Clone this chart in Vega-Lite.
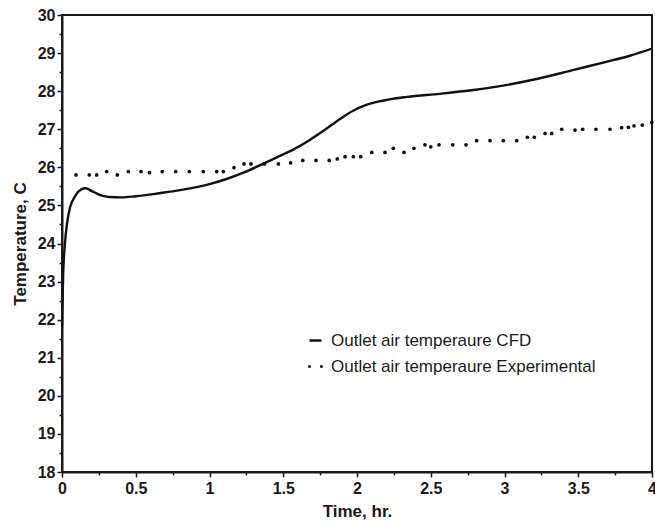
{
  "$schema": "https://vega.github.io/schema/vega-lite/v6.json",
  "width": 590,
  "height": 457,
  "autosize": {"type": "none"},
  "padding": {"left": 62, "top": 15, "right": 3, "bottom": 54},
  "background": "white",
  "config": {
    "font": "Liberation Sans",
    "view": {"stroke": "#1a1a1a", "strokeWidth": 2},
    "axis": {
      "grid": false,
      "domainColor": "#1a1a1a",
      "domainWidth": 2,
      "tickColor": "#1a1a1a",
      "tickWidth": 1.5,
      "labelFont": "Liberation Sans",
      "labelFontWeight": "bold",
      "labelFontSize": 16,
      "labelColor": "#1a1a1a",
      "labelOverlap": false,
      "labelFlush": false,
      "titleFont": "Liberation Sans",
      "titleFontSize": 17,
      "titleFontWeight": "bold",
      "titleColor": "#1a1a1a"
    },
    "legend": {
      "title": null,
      "orient": "none",
      "padding": 0,
      "labelFont": "Liberation Sans",
      "labelFontSize": 17,
      "labelColor": "#1a1a1a",
      "labelOffset": 7,
      "labelLimit": 400
    }
  },
  "datasets": {
    "cfd": [
      {"t": 0.0, "T": 21.8, "series": "Outlet air temperaure CFD"},
      {"t": 0.008, "T": 23.2, "series": "Outlet air temperaure CFD"},
      {"t": 0.02, "T": 24.0, "series": "Outlet air temperaure CFD"},
      {"t": 0.035, "T": 24.55, "series": "Outlet air temperaure CFD"},
      {"t": 0.055, "T": 24.95, "series": "Outlet air temperaure CFD"},
      {"t": 0.09, "T": 25.25, "series": "Outlet air temperaure CFD"},
      {"t": 0.13, "T": 25.42, "series": "Outlet air temperaure CFD"},
      {"t": 0.16, "T": 25.45, "series": "Outlet air temperaure CFD"},
      {"t": 0.2, "T": 25.38, "series": "Outlet air temperaure CFD"},
      {"t": 0.26, "T": 25.27, "series": "Outlet air temperaure CFD"},
      {"t": 0.32, "T": 25.22, "series": "Outlet air temperaure CFD"},
      {"t": 0.4, "T": 25.21, "series": "Outlet air temperaure CFD"},
      {"t": 0.5, "T": 25.24, "series": "Outlet air temperaure CFD"},
      {"t": 0.66, "T": 25.32, "series": "Outlet air temperaure CFD"},
      {"t": 0.8, "T": 25.4, "series": "Outlet air temperaure CFD"},
      {"t": 1.0, "T": 25.56, "series": "Outlet air temperaure CFD"},
      {"t": 1.12, "T": 25.7, "series": "Outlet air temperaure CFD"},
      {"t": 1.23, "T": 25.86, "series": "Outlet air temperaure CFD"},
      {"t": 1.34, "T": 26.05, "series": "Outlet air temperaure CFD"},
      {"t": 1.45, "T": 26.25, "series": "Outlet air temperaure CFD"},
      {"t": 1.57, "T": 26.47, "series": "Outlet air temperaure CFD"},
      {"t": 1.68, "T": 26.72, "series": "Outlet air temperaure CFD"},
      {"t": 1.78, "T": 26.98, "series": "Outlet air temperaure CFD"},
      {"t": 1.885, "T": 27.27, "series": "Outlet air temperaure CFD"},
      {"t": 1.97, "T": 27.48, "series": "Outlet air temperaure CFD"},
      {"t": 2.05, "T": 27.62, "series": "Outlet air temperaure CFD"},
      {"t": 2.15, "T": 27.73, "series": "Outlet air temperaure CFD"},
      {"t": 2.34, "T": 27.85, "series": "Outlet air temperaure CFD"},
      {"t": 2.56, "T": 27.93, "series": "Outlet air temperaure CFD"},
      {"t": 2.79, "T": 28.03, "series": "Outlet air temperaure CFD"},
      {"t": 3.01, "T": 28.16, "series": "Outlet air temperaure CFD"},
      {"t": 3.24, "T": 28.34, "series": "Outlet air temperaure CFD"},
      {"t": 3.47, "T": 28.56, "series": "Outlet air temperaure CFD"},
      {"t": 3.69, "T": 28.77, "series": "Outlet air temperaure CFD"},
      {"t": 3.85, "T": 28.93, "series": "Outlet air temperaure CFD"},
      {"t": 4.0, "T": 29.12, "series": "Outlet air temperaure CFD"}
    ],
    "exp": [
      {"t": 0.095, "T": 25.8, "series": "Outlet air temperaure Experimental"},
      {"t": 0.185, "T": 25.8, "series": "Outlet air temperaure Experimental"},
      {"t": 0.235, "T": 25.8, "series": "Outlet air temperaure Experimental"},
      {"t": 0.303, "T": 25.89, "series": "Outlet air temperaure Experimental"},
      {"t": 0.375, "T": 25.8, "series": "Outlet air temperaure Experimental"},
      {"t": 0.45, "T": 25.89, "series": "Outlet air temperaure Experimental"},
      {"t": 0.536, "T": 25.89, "series": "Outlet air temperaure Experimental"},
      {"t": 0.593, "T": 25.86, "series": "Outlet air temperaure Experimental"},
      {"t": 0.68, "T": 25.89, "series": "Outlet air temperaure Experimental"},
      {"t": 0.771, "T": 25.89, "series": "Outlet air temperaure Experimental"},
      {"t": 0.863, "T": 25.89, "series": "Outlet air temperaure Experimental"},
      {"t": 0.958, "T": 25.89, "series": "Outlet air temperaure Experimental"},
      {"t": 1.049, "T": 25.89, "series": "Outlet air temperaure Experimental"},
      {"t": 1.094, "T": 25.89, "series": "Outlet air temperaure Experimental"},
      {"t": 1.166, "T": 25.99, "series": "Outlet air temperaure Experimental"},
      {"t": 1.234, "T": 26.09, "series": "Outlet air temperaure Experimental"},
      {"t": 1.281, "T": 26.09, "series": "Outlet air temperaure Experimental"},
      {"t": 1.372, "T": 26.09, "series": "Outlet air temperaure Experimental"},
      {"t": 1.467, "T": 26.09, "series": "Outlet air temperaure Experimental"},
      {"t": 1.55, "T": 26.12, "series": "Outlet air temperaure Experimental"},
      {"t": 1.632, "T": 26.18, "series": "Outlet air temperaure Experimental"},
      {"t": 1.722, "T": 26.18, "series": "Outlet air temperaure Experimental"},
      {"t": 1.812, "T": 26.18, "series": "Outlet air temperaure Experimental"},
      {"t": 1.866, "T": 26.22, "series": "Outlet air temperaure Experimental"},
      {"t": 1.919, "T": 26.28, "series": "Outlet air temperaure Experimental"},
      {"t": 1.975, "T": 26.28, "series": "Outlet air temperaure Experimental"},
      {"t": 2.025, "T": 26.28, "series": "Outlet air temperaure Experimental"},
      {"t": 2.1, "T": 26.39, "series": "Outlet air temperaure Experimental"},
      {"t": 2.19, "T": 26.39, "series": "Outlet air temperaure Experimental"},
      {"t": 2.246, "T": 26.5, "series": "Outlet air temperaure Experimental"},
      {"t": 2.319, "T": 26.39, "series": "Outlet air temperaure Experimental"},
      {"t": 2.386, "T": 26.5, "series": "Outlet air temperaure Experimental"},
      {"t": 2.461, "T": 26.59, "series": "Outlet air temperaure Experimental"},
      {"t": 2.5, "T": 26.54, "series": "Outlet air temperaure Experimental"},
      {"t": 2.556, "T": 26.59, "series": "Outlet air temperaure Experimental"},
      {"t": 2.649, "T": 26.59, "series": "Outlet air temperaure Experimental"},
      {"t": 2.739, "T": 26.59, "series": "Outlet air temperaure Experimental"},
      {"t": 2.811, "T": 26.7, "series": "Outlet air temperaure Experimental"},
      {"t": 2.902, "T": 26.7, "series": "Outlet air temperaure Experimental"},
      {"t": 2.992, "T": 26.7, "series": "Outlet air temperaure Experimental"},
      {"t": 3.083, "T": 26.7, "series": "Outlet air temperaure Experimental"},
      {"t": 3.155, "T": 26.79, "series": "Outlet air temperaure Experimental"},
      {"t": 3.202, "T": 26.79, "series": "Outlet air temperaure Experimental"},
      {"t": 3.275, "T": 26.89, "series": "Outlet air temperaure Experimental"},
      {"t": 3.32, "T": 26.89, "series": "Outlet air temperaure Experimental"},
      {"t": 3.388, "T": 27.0, "series": "Outlet air temperaure Experimental"},
      {"t": 3.478, "T": 26.98, "series": "Outlet air temperaure Experimental"},
      {"t": 3.53, "T": 27.0, "series": "Outlet air temperaure Experimental"},
      {"t": 3.62, "T": 27.0, "series": "Outlet air temperaure Experimental"},
      {"t": 3.715, "T": 27.0, "series": "Outlet air temperaure Experimental"},
      {"t": 3.794, "T": 27.04, "series": "Outlet air temperaure Experimental"},
      {"t": 3.84, "T": 27.05, "series": "Outlet air temperaure Experimental"},
      {"t": 3.878, "T": 27.09, "series": "Outlet air temperaure Experimental"},
      {"t": 3.934, "T": 27.11, "series": "Outlet air temperaure Experimental"},
      {"t": 3.998, "T": 27.18, "series": "Outlet air temperaure Experimental"}
    ]
  },
  "encoding": {
    "x": {
      "field": "t",
      "type": "quantitative",
      "scale": {"domain": [0, 4], "nice": false, "zero": false},
      "axis": {
        "title": "Time, hr.",
        "values": [0, 0.25, 0.5, 0.75, 1, 1.25, 1.5, 1.75, 2, 2.25, 2.5, 2.75, 3, 3.25, 3.5, 3.75, 4],
        "labelExpr": "(datum.value * 2) % 1 === 0 ? format(datum.value, '~g') : ''",
        "tickSize": {"condition": {"test": "(datum.value * 2) % 1 === 0", "value": 5}, "value": 3},
        "labelPadding": 3,
        "titlePadding": 7
      }
    },
    "y": {
      "field": "T",
      "type": "quantitative",
      "scale": {"domain": [18, 30], "nice": false, "zero": false},
      "axis": {
        "title": "Temperature, C",
        "values": [18, 18.5, 19, 19.5, 20, 20.5, 21, 21.5, 22, 22.5, 23, 23.5, 24, 24.5, 25, 25.5, 26, 26.5, 27, 27.5, 28, 28.5, 29, 29.5, 30],
        "labelExpr": "datum.value % 1 === 0 ? format(datum.value, 'd') : ''",
        "tickSize": {"condition": {"test": "datum.value % 1 === 0", "value": 5}, "value": 3},
        "labelPadding": 2,
        "titlePadding": 8
      }
    }
  },
  "layer": [
    {
      "data": {"name": "cfd"},
      "mark": {"type": "line", "strokeWidth": 2.4, "interpolate": "monotone", "clip": true},
      "encoding": {
        "stroke": {
          "field": "series",
          "type": "nominal",
          "scale": {"range": ["#111111"]},
          "legend": {
            "legendX": 245,
            "legendY": 317,
            "symbolType": "stroke",
            "symbolSize": 144,
            "symbolStrokeWidth": 2.5
          }
        }
      }
    },
    {
      "data": {"name": "exp"},
      "mark": {"type": "point", "filled": true, "size": 14, "opacity": 1},
      "encoding": {
        "fill": {
          "field": "series",
          "type": "nominal",
          "scale": {"range": ["#111111"]},
          "legend": {
            "legendX": 245,
            "legendY": 343,
            "symbolType": "M-1.07,0A0.22,0.22 0 1,0 -0.63,0A0.22,0.22 0 1,0 -1.07,0Z M0.63,0A0.22,0.22 0 1,0 1.07,0A0.22,0.22 0 1,0 0.63,0Z",
            "symbolSize": 196,
            "symbolStrokeWidth": 0
          }
        }
      }
    }
  ]
}
